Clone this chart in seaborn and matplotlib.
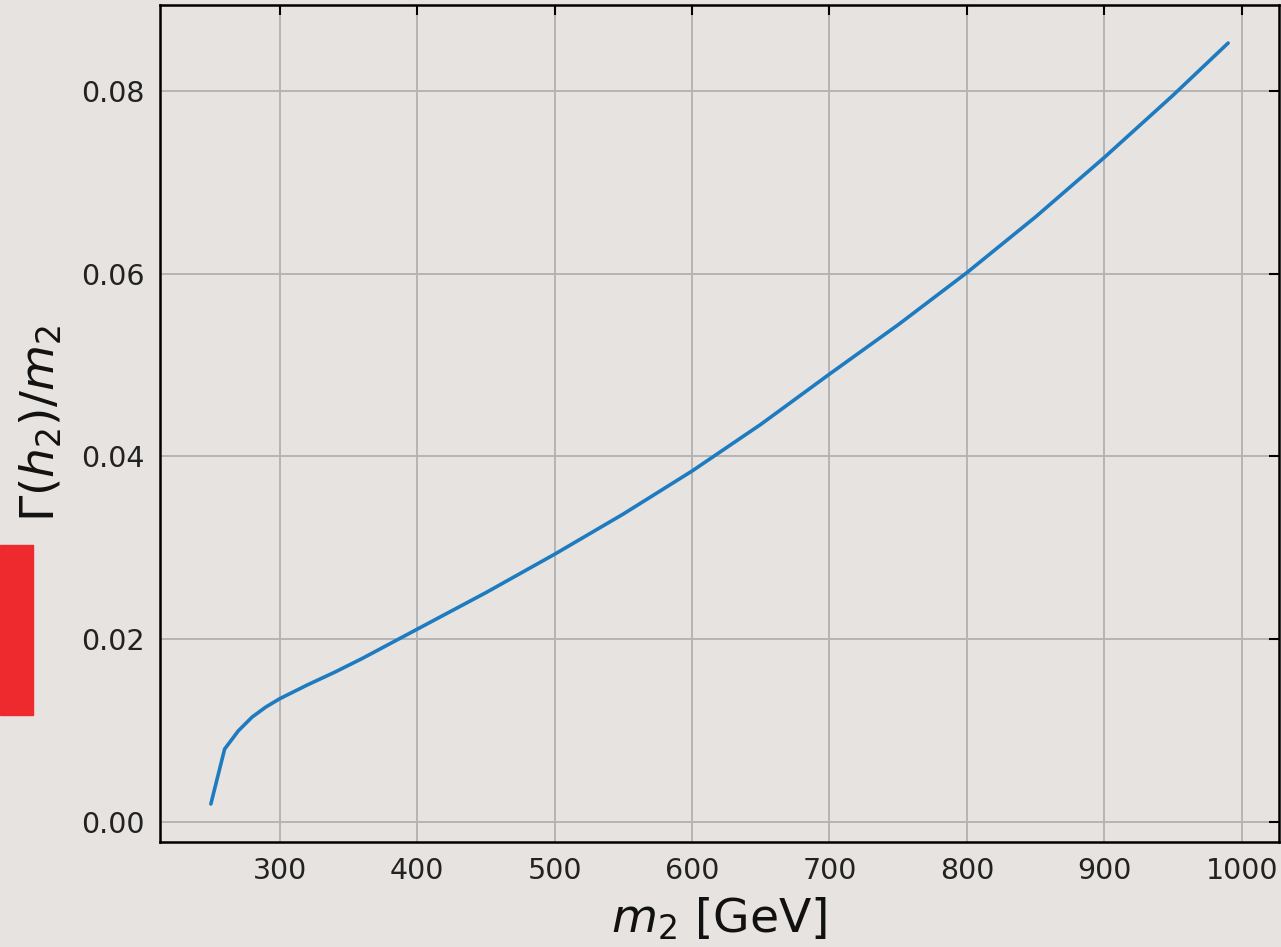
import numpy as np
import pandas as pd
import seaborn as sns
import matplotlib.pyplot as plt
from matplotlib.patches import Rectangle

# masse du h2 (GeV) et largeur relative
m2 = [250, 260, 270, 280, 290, 300, 320, 340, 360, 380, 400, 450, 500,
      550, 600, 650, 700, 750, 800, 850, 900, 950, 990]
gamma_ratio = [0.0020, 0.0080, 0.0100, 0.0115, 0.0126, 0.0135, 0.0150, 0.0164,
               0.0179, 0.0195, 0.0211, 0.0251, 0.0293, 0.0337, 0.0384, 0.0435,
               0.0490, 0.0544, 0.0601, 0.0662, 0.0727, 0.0795, 0.0852]

df = pd.DataFrame({'m2': m2, 'ratio': gamma_ratio})

bg = '#e6e3e0'
sns.set_style('whitegrid')
plt.rcParams['font.family'] = ['DejaVu Sans']

fig = plt.figure(figsize=(12.81, 9.47), dpi=100, facecolor=bg)
ax = fig.add_axes([160/1281, 1-842/947, (1279-160)/1281, (842-5)/947])
ax.set_facecolor(bg)

sns.lineplot(data=df, x='m2', y='ratio', ax=ax, color='#1f7bc0', linewidth=2.6)

ax.set_xticks([300, 400, 500, 600, 700, 800, 900, 1000])
ax.set_yticks([0.00, 0.02, 0.04, 0.06, 0.08])
ax.margins(x=0.05, y=0.05)
ax.grid(True, color='#b4b4b4', linewidth=1.4)
for s in ax.spines.values():
    s.set_visible(True)
    s.set_color('black')
    s.set_linewidth(1.8)
ax.tick_params(direction='in', length=7, width=1.5, top=True, right=True,
               labelsize=20.5, colors='black', labelcolor='#222222', pad=11)
ax.set_xlabel(r'$m_2$ [GeV]', fontsize=34, labelpad=8, color='#111111')
ax.set_ylabel(r'$\Gamma(h_2)/m_2$', fontsize=34, labelpad=12, color='#111111')

fig.patches.append(Rectangle((0, 1-715/947), 33/1281, 170/947,
                             transform=fig.transFigure, color='#ee2a2e', zorder=5))

fig.savefig('out.png', dpi=100, facecolor=bg)
